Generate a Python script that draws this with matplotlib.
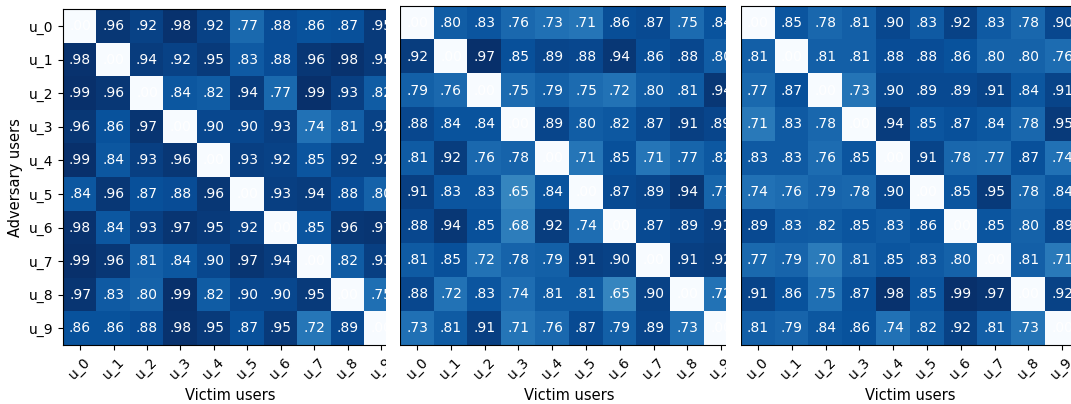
import numpy as np
import matplotlib
matplotlib.use("Agg")
import matplotlib.pyplot as plt
from matplotlib.patches import Rectangle

users = [f"u_{i}" for i in range(10)]

heat_a = [
    [0.00, .96, .92, .98, .92, .77, .88, .86, .87, .95],
    [.98, 0.00, .94, .92, .95, .83, .88, .96, .98, .95],
    [.99, .96, 0.00, .84, .82, .94, .77, .99, .93, .82],
    [.96, .86, .97, 0.00, .90, .90, .93, .74, .81, .92],
    [.99, .84, .93, .96, 0.00, .93, .92, .85, .92, .92],
    [.84, .96, .87, .88, .96, 0.00, .93, .94, .88, .80],
    [.98, .84, .93, .97, .95, .92, 0.00, .85, .96, .97],
    [.99, .96, .81, .84, .90, .97, .94, 0.00, .82, .93],
    [.97, .83, .80, .99, .82, .90, .90, .95, 0.00, .75],
    [.86, .86, .88, .98, .95, .87, .95, .72, .89, 0.00],
]

heat_b = [
    [0.00, .80, .83, .76, .73, .71, .86, .87, .75, .84],
    [.92, 0.00, .97, .85, .89, .88, .94, .86, .88, .80],
    [.79, .76, 0.00, .75, .79, .75, .72, .80, .81, .94],
    [.88, .84, .84, 0.00, .89, .80, .82, .87, .91, .89],
    [.81, .92, .76, .78, 0.00, .71, .85, .71, .77, .82],
    [.91, .83, .83, .65, .84, 0.00, .87, .89, .94, .77],
    [.88, .94, .85, .68, .92, .74, 0.00, .87, .89, .91],
    [.81, .85, .72, .78, .79, .91, .90, 0.00, .91, .92],
    [.88, .72, .83, .74, .81, .81, .65, .90, 0.00, .72],
    [.73, .81, .91, .71, .76, .87, .79, .89, .73, 0.00],
]

heat_c = [
    [0.00, .85, .78, .81, .90, .83, .92, .83, .78, .90],
    [.81, 0.00, .81, .81, .88, .88, .86, .80, .80, .76],
    [.77, .87, 0.00, .73, .90, .89, .89, .91, .84, .91],
    [.71, .83, .78, 0.00, .94, .85, .87, .84, .78, .95],
    [.83, .83, .76, .85, 0.00, .91, .78, .77, .87, .74],
    [.74, .76, .79, .78, .90, 0.00, .85, .95, .78, .84],
    [.89, .83, .82, .85, .83, .86, 0.00, .85, .80, .89],
    [.77, .79, .70, .81, .85, .83, .80, 0.00, .81, .71],
    [.91, .86, .75, .87, .98, .85, .99, .97, 0.00, .92],
    [.81, .79, .84, .86, .74, .82, .92, .81, .73, 0.00],
]

W, H = 1071, 404
fig = plt.figure(figsize=(W / 100, H / 100), dpi=100)

# (left px, top px, width px, height px, cut px, next-left px)
layout = [
    (63.3, 9.3, 334.7, 335.7, 385.7, 400.0),
    (400.3, 5.7, 337.6, 339.3, 725.7, 740.6),
    (741.0, 5.7, 338.0, 339.3, None, None),
]

for k, (data, (lx, ty, wd, ht, cut, nxt)) in enumerate(zip([heat_a, heat_b, heat_c], layout)):
    arr = np.array(data)
    ax = fig.add_axes([lx / W, 1 - (ty + ht) / H, wd / W, ht / H])
    ax.imshow(arr, cmap="Blues", aspect="auto")
    for i in range(arr.shape[0]):
        for j in range(arr.shape[1]):
            s = f"{arr[i, j]:.2f}"
            if s.startswith("0"):
                s = s[1:]
            ax.text(j, i, s, ha="center", va="center", color="white", fontsize=10)
    ax.set_xticks(range(10))
    ax.set_xticklabels(users, rotation=45, fontsize=10)
    ax.set_xlabel("Victim users", fontsize=10.5)
    if k == 0:
        ax.set_yticks(range(10))
        ax.set_yticklabels(users, fontsize=10)
        ax.set_ylabel("Adversary users", fontsize=10.5)
    else:
        ax.set_yticks([])
    ax.set_xlim(-0.5, 9.5)
    ax.set_ylim(9.5, -0.5)
    if cut is not None:
        fig.add_artist(Rectangle((cut / W, 0), (nxt - cut) / W, 1,
                                 transform=fig.transFigure, facecolor="white",
                                 edgecolor="none", zorder=5))

fig.savefig("out.png", dpi=100)
